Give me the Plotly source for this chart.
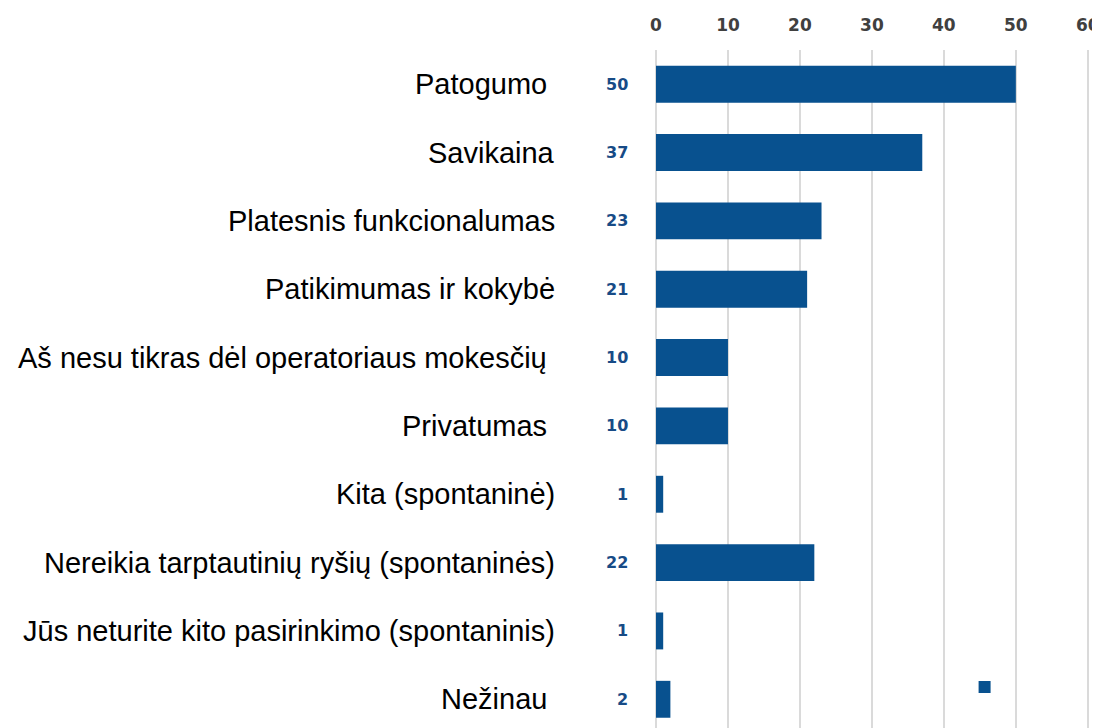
"""
Horizontal bar chart: reasons (Lithuanian survey), values shown left of bars.
"""

import plotly.graph_objects as go

# Chart data
categories = [
    "Patogumo",
    "Savikaina",
    "Platesnis funkcionalumas",
    "Patikimumas ir kokybė",
    "Aš nesu tikras dėl operatoriaus mokesčių",
    "Privatumas",
    "Kita (spontaninė)",
    "Nereikia tarptautinių ryšių (spontaninės)",
    "Jūs neturite kito pasirinkimo (spontaninis)",
    "Nežinau",
]
values = [50, 37, 23, 21, 10, 10, 1, 22, 1, 2]
x_ticks = [0, 10, 20, 30, 40, 50, 60]

# a few labels sit slightly left of the common right edge in the original
label_pad = {"Patogumo": 1, "Aš nesu tikras dėl operatoriaus mokesčių": 1,
             "Privatumas": 1, "Nežinau": 1}

BAR_COLOR = "#08518f"
LABEL_COLOR = "#174b86"
GRID_COLOR = "#dadada"

# the page body adds an 8px margin, so the figure is sized to fit inside it
FIG_W, FIG_H = 1092, 720
PLOT_L, PLOT_W = 648, 441

positions = list(range(len(categories)))

fig = go.Figure()
fig.add_trace(
    go.Bar(
        x=values,
        y=positions,
        orientation="h",
        width=0.54,
        marker=dict(color=BAR_COLOR, line_width=0),
        name=" ",
        showlegend=True,
        hoverinfo="x",
    )
)

# Category labels (right aligned) and value labels left of the axis
for pos, cat, val in zip(positions, categories, values):
    fig.add_annotation(
        x=(549 - PLOT_L) / PLOT_W,
        xref="paper",
        y=pos,
        yref="y",
        text=cat + "\u00a0" * label_pad.get(cat, 0),
        showarrow=False,
        xanchor="right",
        yanchor="middle",
        font=dict(family="Liberation Sans, Arial", size=29, color="#000000"),
    )
    fig.add_annotation(
        x=(622 - PLOT_L) / PLOT_W,
        xref="paper",
        y=pos,
        yref="y",
        text=str(val),
        showarrow=False,
        xanchor="right",
        yanchor="middle",
        font=dict(family="DejaVu Sans", size=16, color=LABEL_COLOR, weight="bold"),
    )

fig.update_layout(
    width=FIG_W,
    height=FIG_H,
    margin=dict(l=PLOT_L, r=FIG_W - PLOT_L - PLOT_W, t=42, b=0, pad=0),
    paper_bgcolor="white",
    plot_bgcolor="white",
    showlegend=True,
    legend=dict(
        x=(958 - PLOT_L) / PLOT_W,
        y=(720 - 679) / 678,
        xanchor="left",
        yanchor="middle",
        bgcolor="rgba(0,0,0,0)",
        font=dict(size=12),
    ),
    xaxis=dict(
        side="top",
        range=[0, 61],
        tickvals=x_ticks,
        ticktext=[str(t) for t in x_ticks],
        showgrid=True,
        gridcolor=GRID_COLOR,
        gridwidth=1.5,
        zeroline=True,
        zerolinecolor=GRID_COLOR,
        zerolinewidth=1.5,
        ticks="",
        ticklabelstandoff=15,
        ticklabeloverflow="allow",
        tickfont=dict(family="DejaVu Sans", size=17, color="#404040", weight="bold"),
        fixedrange=True,
    ),
    yaxis=dict(
        range=[9.42, -0.5],
        showticklabels=False,
        showgrid=False,
        zeroline=False,
        ticks="",
        fixedrange=True,
    ),
)

fig.write_html("out.html")
